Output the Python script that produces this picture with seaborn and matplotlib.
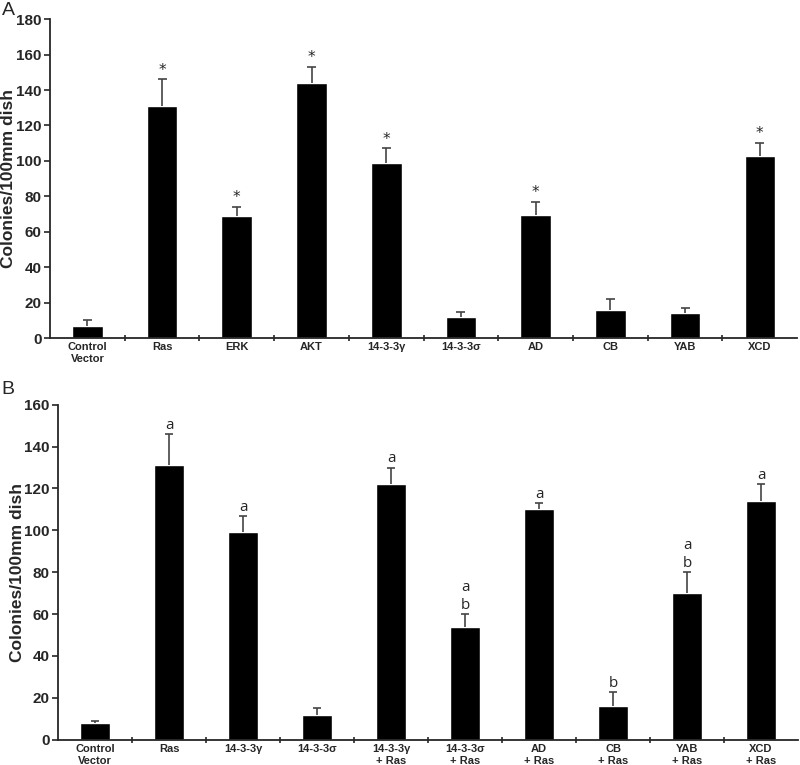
import numpy as np
import pandas as pd
import seaborn as sns
import matplotlib.pyplot as plt
from matplotlib.ticker import FixedLocator

# Panel A
labels_a = ["Control\nVector", "Ras", "ERK", "AKT", "14-3-3\u03b3", "14-3-3\u03c3",
            "AD", "CB", "YAB", "XCD"]
means_a = [7, 131, 69, 144, 99, 12, 69.5, 16, 14, 103]
errs_a = [3, 15, 5, 9, 8, 3, 7.5, 6, 3, 7]
marks_a = ["", "*", "*", "*", "*", "", "*", "", "", "*"]

# Panel B
labels_b = ["Control\nVector", "Ras", "14-3-3\u03b3", "14-3-3\u03c3",
            "14-3-3\u03b3\n+ Ras", "14-3-3\u03c3\n+ Ras", "AD\n+ Ras",
            "CB\n+ Ras", "YAB\n+ Ras", "XCD\n+ Ras"]
means_b = [8, 131, 99, 12, 122, 54, 110, 16, 70, 114]
errs_b = [1, 15, 8, 3, 8, 6, 3, 7, 10, 8]
marks_b = ["", "a", "a", "", "a", "a\nb", "a", "b", "a\nb", "a"]

sns.set_style("ticks")
plt.rcParams['font.family'] = ['Liberation Sans', 'DejaVu Sans']

fig = plt.figure(figsize=(8, 7.65), dpi=100)
ax_a = fig.add_axes([0.0625, 0.558, 0.934, 0.417])
ax_b = fig.add_axes([0.0725, 0.033, 0.925, 0.438])


def draw_panel(ax, labels, means, errs, marks, ymax, mark_font, mark_gap, label_x):
    df = pd.DataFrame({"group": labels, "colonies": means})
    sns.barplot(data=df, x="group", y="colonies", color="black", width=0.41,
                saturation=1, ax=ax, errorbar=None)
    x = np.arange(len(labels))
    tops = np.array(means) + np.array(errs)
    # upward-only error bars
    ax.vlines(x, means, tops, color="#444444", lw=1.2, zorder=3)
    ax.hlines(tops, x - 0.06, x + 0.06, color="#444444", lw=1.2, zorder=3)
    for xi, t, tx in zip(x, tops, marks):
        if tx:
            ax.text(xi, t + mark_gap, tx, ha="center", va="bottom",
                    fontsize=11, family=mark_font, linespacing=1.3)
    ax.set_xlim(-0.5, len(labels) - 0.5)
    ax.set_ylim(0, ymax)
    ax.set_yticks(np.arange(0, ymax + 1, 20))
    ax.set_xlabel("")
    ax.set_ylabel("Colonies/100mm dish", fontsize=12.5, fontweight="bold")
    ax.yaxis.set_label_coords(label_x, 0.5)
    ax.tick_params(axis="x", which="major", length=0, labelsize=8, pad=3)
    ax.xaxis.set_minor_locator(FixedLocator(x[:-1] + 0.5))
    ax.tick_params(axis="x", which="minor", length=5, width=1.2, direction="inout")
    ax.tick_params(axis="y", labelsize=11, width=1.2, length=4, pad=2)
    for lab in ax.get_xticklabels() + ax.get_yticklabels():
        lab.set_fontweight("bold")
    for s in ["left", "bottom"]:
        ax.spines[s].set_linewidth(1.3)
    sns.despine(ax=ax)


draw_panel(ax_a, labels_a, means_a, errs_a, marks_a, 180, "DejaVu Sans", 1, -0.046)
draw_panel(ax_b, labels_b, means_b, errs_b, marks_b, 160, "Open Sans", 0.5, -0.045)

fig.text(0.002, 0.998, "A", fontsize=14, va="top", ha="left")
fig.text(0.002, 0.502, "B", fontsize=14, va="top", ha="left")

fig.savefig("out.png", dpi=100)
